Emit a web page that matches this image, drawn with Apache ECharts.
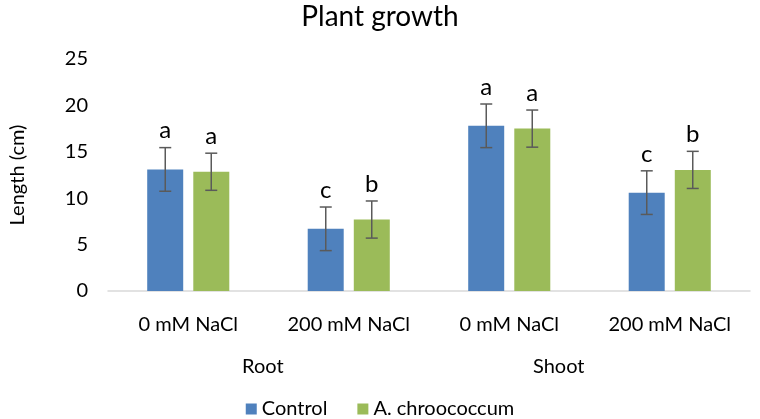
<!DOCTYPE html>
<html>
<head>
<meta charset="utf-8">
<script src="https://cdn.jsdelivr.net/npm/echarts@6/dist/echarts.min.js"></script>
<style>
  html, body { margin: 0; padding: 0; background: #fff; }
  #chart { width: 760px; height: 419px; }
</style>
</head>
<body>
<div id="chart"></div>
<script>
// data
var categories = ['0 mM NaCl', '200 mM NaCl', '0 mM NaCl', '200 mM NaCl']
var groupNames = ['Root', 'Shoot']
var controlMean = [13.1, 6.7, 17.8, 10.6]
var controlErr = [2.35, 2.35, 2.35, 2.35]
var controlLetters = ['a', 'c', 'a', 'c']
var azotoMean = [12.85, 7.7, 17.5, 13.05]
var azotoErr = [2.0, 2.0, 2.0, 2.0]
var azotoLetters = ['a', 'b', 'a', 'b']
var yTicks = [0, 5, 10, 15, 20, 25]

var FONT = 'Lato, "Open Sans", sans-serif'
var BLUE = '#4f81bd'
var GREEN = '#9bbb59'

function errData(mean, err) {
  return mean.map(function(v, i) {
    return [i, v, err[i]]
  })
}

// error bar + letter, shifted onto its bar
function errRenderer(shift, letters) {
  return function(params, api) {
    var i = api.value(0)
    var m = api.value(1)
    var e = api.value(2)
    var top = api.coord([i, m + e])
    var bot = api.coord([i, m - e])
    var x = top[0] + shift
    var cap = 6
    var style = { stroke: '#5a5a5a', lineWidth: 1.5 }
    return {
      type: 'group',
      children: [
        { type: 'line', shape: { x1: x, y1: top[1], x2: x, y2: bot[1] }, style: style },
        { type: 'line', shape: { x1: x - cap, y1: top[1], x2: x + cap, y2: top[1] }, style: style },
        { type: 'line', shape: { x1: x - cap, y1: bot[1], x2: x + cap, y2: bot[1] }, style: style },
        {
          type: 'text',
          style: {
            text: letters[params.dataIndex],
            x: x,
            y: top[1] - 5,
            textAlign: 'center',
            textVerticalAlign: 'bottom',
            font: '24px ' + FONT,
            fill: '#000'
          }
        }
      ]
    }
  }
}

var chart = echarts.init(document.getElementById('chart'), null, { renderer: 'canvas' })

chart.setOption({
  backgroundColor: '#fff',
  animation: false,
  title: {
    text: 'Plant growth',
    left: 'center',
    top: 3,
    padding: 0,
    textStyle: { fontFamily: FONT, fontSize: 28, fontWeight: 'normal', color: '#000' }
  },
  legend: {
    data: ['Control', 'A. chroococcum'],
    top: 394,
    left: 'center',
    itemWidth: 11,
    itemHeight: 11,
    itemGap: 30,
    icon: 'rect',
    textStyle: { fontFamily: FONT, fontSize: 20, color: '#000' }
  },
  grid: {
    left: 103,
    right: 10,
    top: 59,
    bottom: 128,
    containLabel: false
  },
  xAxis: {
    type: 'category',
    data: categories,
    axisLine: { lineStyle: { color: '#d9d9d9', width: 1.5 } },
    axisTick: { show: false },
    axisLabel: { fontFamily: FONT, fontSize: 20, color: '#000', margin: 24 }
  },
  yAxis: {
    type: 'value',
    min: yTicks[0],
    max: yTicks[yTicks.length - 1],
    interval: 5,
    name: 'Length (cm)',
    nameLocation: 'middle',
    nameGap: 80,
    nameTextStyle: { fontFamily: FONT, fontSize: 20, color: '#000' },
    axisLine: { show: false },
    axisTick: { show: false },
    splitLine: { show: false },
    axisLabel: { fontFamily: FONT, fontSize: 20, color: '#000', margin: 20 }
  },
  graphic: [
    { type: 'text', left: 242, top: 357, style: { text: groupNames[0], font: '20px ' + FONT, fill: '#000' } },
    { type: 'text', left: 533, top: 357, style: { text: groupNames[1], font: '20px ' + FONT, fill: '#000' } }
  ],
  series: [
    {
      name: 'Control',
      type: 'bar',
      data: controlMean,
      barWidth: 36,
      barGap: '28%',
      itemStyle: { color: BLUE }
    },
    {
      name: 'A. chroococcum',
      type: 'bar',
      data: azotoMean,
      barWidth: 36,
      barGap: '28%',
      itemStyle: { color: GREEN }
    },
    {
      type: 'custom',
      name: 'errControl',
      renderItem: errRenderer(-23, controlLetters),
      data: errData(controlMean, controlErr),
      z: 5
    },
    {
      type: 'custom',
      name: 'errAzoto',
      renderItem: errRenderer(23, azotoLetters),
      data: errData(azotoMean, azotoErr),
      z: 5
    }
  ]
})
</script>
</body>
</html>
